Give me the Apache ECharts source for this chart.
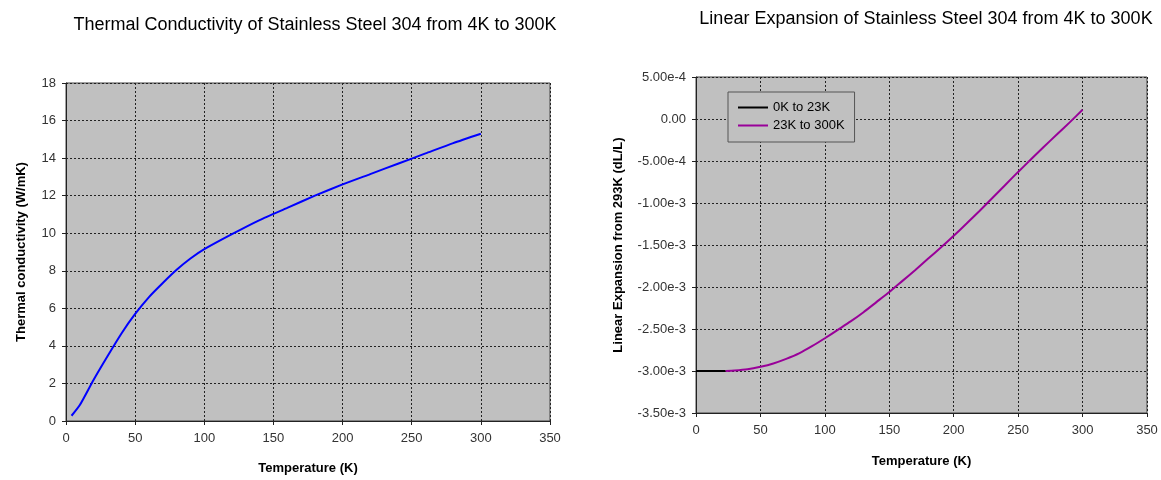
<!DOCTYPE html>
<html>
<head>
<meta charset="utf-8">
<script src="https://cdn.jsdelivr.net/npm/echarts@6/dist/echarts.min.js"></script>
<style>
  html, body { margin: 0; padding: 0; background: #fff; }
  #main { width: 1161px; height: 480px; }
</style>
</head>
<body>
<div id="main"></div>
<script>
// thermal conductivity (W/mK) vs temperature (K)
var condTemps = [4, 10, 20, 30, 40, 50, 60, 70, 80, 90, 100, 120, 140, 160, 180, 200, 220, 240, 260, 280, 300];
var condValues = [0.28, 0.85, 2.2, 3.45, 4.65, 5.7, 6.6, 7.35, 8.05, 8.65, 9.15, 9.95, 10.7, 11.35, 12.0, 12.6, 13.15, 13.7, 14.25, 14.8, 15.3];

// linear expansion from 293K (dL/L)
var lowTemps = [0, 23];
var lowValues = [-3.00e-3, -3.00e-3];
var highTemps = [23, 30, 40, 50, 60, 70, 80, 90, 100, 110, 120, 130, 140, 150, 160, 170, 180, 190, 200, 210, 220, 230, 240, 250, 260, 270, 280, 290, 300];
var highValues = [-3.00e-3, -2.995e-3, -2.98e-3, -2.95e-3, -2.91e-3, -2.855e-3, -2.79e-3, -2.705e-3, -2.61e-3, -2.51e-3, -2.41e-3, -2.30e-3, -2.18e-3, -2.06e-3, -1.93e-3, -1.80e-3, -1.665e-3, -1.53e-3, -1.39e-3, -1.245e-3, -1.095e-3, -0.94e-3, -0.785e-3, -0.63e-3, -0.48e-3, -0.33e-3, -0.185e-3, -0.04e-3, 0.11e-3];

var legendNames = ['0K to 23K', '23K to 300K'];

function pairs(xs, ys) {
  return xs.map(function (x, i) { return [x, ys[i]]; });
}

var myChart = echarts.init(document.getElementById('main'));

var fontFam = 'Liberation Sans, Arial, sans-serif';
var gridLine = { show: true, lineStyle: { color: '#222', type: [2, 2], width: 1 } };
var axisLine = { show: true, onZero: false, lineStyle: { color: '#222', width: 1 } };
var axisTick = { show: true, inside: false, length: 4, lineStyle: { color: '#222' } };
var xLabel = { color: '#333', fontSize: 13, margin: 11, fontFamily: fontFam };
var yLabel = { color: '#333', fontSize: 13, margin: 10, fontFamily: fontFam };
var nameStyle = { color: '#000', fontSize: 13, fontWeight: 'bold', fontFamily: fontFam };

var option = {
  animation: false,
  title: [{
    text: 'Thermal Conductivity of Stainless Steel 304 from 4K to 300K',
    left: 310, top: 11, textAlign: 'center',
    textStyle: { fontSize: 18, fontWeight: 'normal', color: '#000', fontFamily: fontFam }
  }, {
    text: 'Linear Expansion of Stainless Steel 304 from 4K to 300K',
    left: 921, top: 5, textAlign: 'center',
    textStyle: { fontSize: 18, fontWeight: 'normal', color: '#000', fontFamily: fontFam }
  }],
  legend: {
    data: legendNames,
    orient: 'vertical',
    left: 728, top: 92,
    padding: [9, 10, 10, 10],
    itemGap: 5,
    itemWidth: 30, itemHeight: 2,
    icon: 'rect',
    backgroundColor: '#c0c0c0',
    borderColor: '#555', borderWidth: 1,
    textStyle: { fontSize: 13, color: '#000', fontFamily: fontFam }
  },
  grid: [{
    left: 66, top: 83, width: 484, height: 340,
    show: true, backgroundColor: '#c0c0c0', borderColor: '#444', borderWidth: 1
  }, {
    left: 696, top: 77, width: 451, height: 336,
    show: true, backgroundColor: '#c0c0c0', borderColor: '#444', borderWidth: 1
  }],
  xAxis: [{
    gridIndex: 0, type: 'value', min: 0, max: 350, interval: 50,
    name: 'Temperature (K)', nameLocation: 'middle', nameGap: 41, nameTextStyle: nameStyle,
    axisLine: axisLine, axisTick: axisTick, axisLabel: xLabel, splitLine: gridLine
  }, {
    gridIndex: 1, type: 'value', min: 0, max: 350, interval: 50,
    name: 'Temperature (K)', nameLocation: 'middle', nameGap: 42, nameTextStyle: nameStyle,
    axisLine: axisLine, axisTick: axisTick, axisLabel: xLabel, splitLine: gridLine
  }],
  yAxis: [{
    gridIndex: 0, type: 'value', min: 0, max: 18, interval: 2,
    name: 'Thermal conductivity (W/mK)', nameLocation: 'middle', nameGap: 38, nameTextStyle: nameStyle,
    axisLine: axisLine, axisTick: axisTick, axisLabel: yLabel, splitLine: gridLine
  }, {
    gridIndex: 1, type: 'value', min: -3.5e-3, max: 5e-4, interval: 5e-4,
    name: 'Linear Expansion from 293K (dL/L)', nameLocation: 'middle', nameGap: 71, nameTextStyle: nameStyle,
    axisLine: axisLine, axisTick: axisTick, splitLine: gridLine,
    axisLabel: Object.assign({}, yLabel, {
      formatter: function (v) {
        if (Math.abs(v) < 1e-12) return '0.00';
        return v.toExponential(2);
      }
    })
  }],
  series: [{
    name: 'Thermal conductivity',
    type: 'line', xAxisIndex: 0, yAxisIndex: 0,
    data: pairs(condTemps, condValues),
    smooth: 0.2, showSymbol: false,
    lineStyle: { color: '#0000ff', width: 2 }, itemStyle: { color: '#0000ff' }
  }, {
    name: legendNames[0],
    type: 'line', xAxisIndex: 1, yAxisIndex: 1,
    data: pairs(lowTemps, lowValues),
    showSymbol: false,
    lineStyle: { color: '#000', width: 2 }, itemStyle: { color: '#000' }
  }, {
    name: legendNames[1],
    type: 'line', xAxisIndex: 1, yAxisIndex: 1,
    data: pairs(highTemps, highValues),
    smooth: 0.2, showSymbol: false,
    lineStyle: { color: '#990099', width: 2 }, itemStyle: { color: '#990099' }
  }]
};

myChart.setOption(option);
</script>
</body>
</html>
